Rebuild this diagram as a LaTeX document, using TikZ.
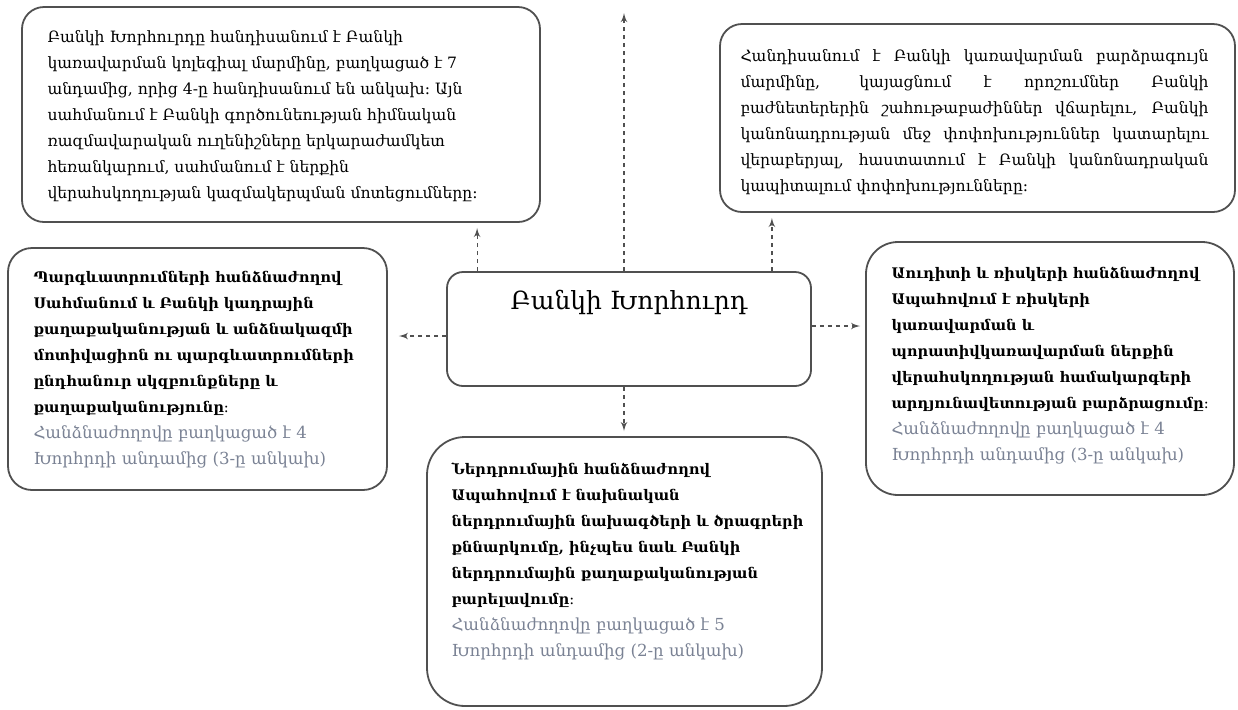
\documentclass[tikz,border=0pt]{standalone}
\usepackage{fontspec}
\setmainfont{DejaVu Serif}
\usepackage{tikz}
\usetikzlibrary{positioning,arrows}
\definecolor{framegray}{RGB}{80,80,80}
\definecolor{notegray}{RGB}{122,130,148}
\tikzset{board/.style={draw=framegray, line width=0.9pt, rounded corners=11pt},
         txt/.style={inner sep=0pt, align=left, font=\fontsize{7.8}{13}\selectfont},
         comtxt/.style={txt, font=\fontsize{7.3}{13}\selectfont\bfseries},
         link/.style={->, >=latex', draw=framegray, line width=0.6pt, dash pattern=on 2pt off 2pt, shorten >=2.5pt}
}
\newcommand{\grnote}[1]{{\color{notegray}\mdseries\fontsize{8.3}{13}\selectfont #1}}

\begin{document}
\begin{tikzpicture}[x=0.5pt,y=-0.5pt]
    \useasboundingbox (0,0) rectangle (1238,709);
    % frames
    %   tl        (up)        tr
    %   lm         ct         rt
    %              bt
    \node[board, minimum width=259pt, minimum height=107.5pt] (tl) at (281,114.5) {};
    \node[board, minimum width=257.5pt, minimum height=94pt] (tr) at (977.5,118) {};
    \node[board, rounded corners=12pt, minimum width=189.5pt, minimum height=121pt] (lm) at (197.5,369) {};
    \node[board, rounded corners=8pt, minimum width=182pt, minimum height=57pt] (ct) at (629,329) {};
    \node[board, rounded corners=16pt, minimum width=184pt, minimum height=126.5pt] (rt) at (1050,368.5) {};
    \node[board, rounded corners=19pt, minimum width=197.5pt, minimum height=134.5pt] (bt) at (624.5,571.5) {};
    \coordinate (up) at (624,8);

    % texts
    \node[font=\fontsize{12.5}{15}\selectfont, anchor=base] (ct-txt) at ([yshift=-19pt]ct.north) {Բանկի Խորհուրդ};
    \node[txt, below right=12pt and 13pt of tl.north west] (tl-txt) {Բանկի Խորհուրդը հանդիսանում է Բանկի\\
        կառավարման կոլեգիալ մարմինը, բաղկացած է 7\\
        անդամից, որից 4-ը հանդիսանում են անկախ։ Այն\\
        սահմանում է Բանկի գործունեության հիմնական\\
        ռազմավարական ուղենիշները երկարաժամկետ\\
        հեռանկարում, սահմանում է ներքին\\
        վերահսկողության կազմակերպման մոտեցումները։};
    \node[txt, align=justify, text width=234pt, below right=13pt and 10.5pt of tr.north west] (tr-txt) {Հանդիսանում է Բանկի կառավարման բարձրագույն\linebreak
        մարմինը, կայացնում է որոշումներ Բանկի\linebreak
        բաժնետերերին շահութաբաժիններ վճարելու, Բանկի\linebreak
        կանոնադրության մեջ փոփոխություններ կատարելու\linebreak
        վերաբերյալ, հաստատում է Բանկի կանոնադրական\linebreak
        կապիտալում փոփոխությունները։};
    \node[comtxt, below right=12pt and 13pt of lm.north west] (lm-txt) {Պարգևատրումների հանձնաժողով\\
        Սահմանում և Բանկի կադրային\\
        քաղաքականության և անձնակազմի\\
        մոտիվացիոն ու պարգևատրումների\\
        ընդհանուր սկզբունքները և\\
        քաղաքականությունը։\\
        \grnote{Հանձնաժողովը բաղկացած է 4}\\
        \grnote{Խորհրդի անդամից (3-ը անկախ)}};
    \node[comtxt, below right=13pt and 13pt of rt.north west] (rt-txt) {Աուդիտի և ռիսկերի հանձնաժողով\\
        Ապահովում է ռիսկերի\\
        կառավարման և\\
        պորատիվկառավարման ներքին\\
        վերահսկողության համակարգերի\\
        արդյունավետության բարձրացումը։\\
        \grnote{Հանձնաժողովը բաղկացած է 4}\\
        \grnote{Խորհրդի անդամից (3-ը անկախ)}};
    \node[comtxt, below right=13pt and 12.5pt of bt.north west] (bt-txt) {Ներդրումային հանձնաժողով\\
        Ապահովում է նախնական\\
        ներդրումային նախագծերի և ծրագրերի\\
        քննարկումը, ինչպես նաև Բանկի\\
        ներդրումային քաղաքականության\\
        բարելավումը։\\
        \grnote{Հանձնաժողովը բաղկացած է 5}\\
        \grnote{Խորհրդի անդամից (2-ը անկախ)}};

    % links
    \draw[link] (ct.north -| up) -- (up);
    \draw[link] ([xshift=15.5pt]ct.north west) -- ([xshift=15.5pt]ct.north west |- tl.south);
    \draw[link] ([xshift=-20pt]ct.north east) -- ([xshift=-20pt]ct.north east |- tr.south);
    \draw[link, shorten >=5.5pt] ([yshift=-3.5pt]ct.west) -- ([yshift=-3.5pt]ct.west -| lm.east);
    \draw[link] ([yshift=1.5pt]ct.east) -- ([yshift=1.5pt]ct.east -| rt.west);
    \draw[link] (ct.south -| up) -- (bt.north -| up);
\end{tikzpicture}
\end{document}
